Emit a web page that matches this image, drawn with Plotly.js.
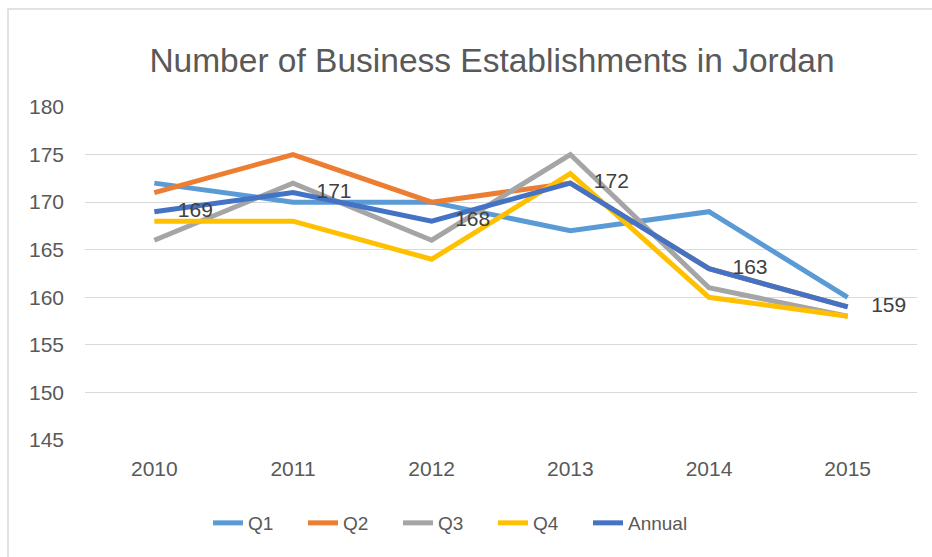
<!DOCTYPE html>
<html>
<head>
<meta charset="utf-8">
<script src="https://cdn.plot.ly/plotly-3.0.1.min.js"></script>
<style>
html,body{margin:0;padding:0;background:#fff;}
#chart{width:932px;height:557px;}
</style>
</head>
<body>
<div id="chart"></div>
<script>
const years = ['2010','2011','2012','2013','2014','2015'];
const q1 = [172, 170, 170, 167, 169, 160];
const q2 = [171, 175, 170, 172, 163, 159];
const q3 = [166, 172, 166, 175, 161, 158];
const q4 = [168, 168, 164, 173, 160, 158];
const annual = [169, 171, 168, 172, 163, 159];
const yTicks = [145, 150, 155, 160, 165, 170, 175, 180];

const seriesNames = ['Q1', 'Q2', 'Q3', 'Q4', 'Annual'];
const seriesData = [q1, q2, q3, q4, annual];
const seriesColors = ['#5B9BD5', '#ED7D31', '#A5A5A5', '#FFC000', '#4472C4'];
const seriesLegend = ['legend', 'legend', 'legend', 'legend', 'legend2'];

const FONT = 'Liberation Sans, Arial, sans-serif';

const traces = seriesNames.map((n, i) => ({
  type: 'scatter',
  mode: 'lines',
  name: n,
  x: years,
  y: seriesData[i],
  line: {color: seriesColors[i], width: 5},
  legend: seriesLegend[i],
  hoverinfo: 'x+y+name'
}));

traces.push({
  type: 'scatter',
  mode: 'markers+text',
  x: years,
  y: annual,
  text: annual.map(String),
  textposition: 'middle right',
  textfont: {family: FONT, size: 21, color: '#404040'},
  marker: {size: 36, opacity: 0},
  showlegend: false,
  hoverinfo: 'skip'
});

const legendFont = {family: FONT, size: 19, color: '#595959'};

const layout = {
  width: 932,
  height: 557,
  margin: {l: 85, r: 15, t: 107, b: 117},
  paper_bgcolor: '#ffffff',
  plot_bgcolor: '#ffffff',
  font: {family: FONT, color: '#595959'},
  title: {
    text: 'Number of Business Establishments in Jordan',
    font: {family: FONT, size: 33.5, color: '#595959'},
    x: 492 / 932, xanchor: 'center', xref: 'container',
    y: 1 - 60 / 557, yanchor: 'middle', yref: 'container'
  },
  xaxis: {
    type: 'category',
    range: [-0.5, 5.5],
    showgrid: false,
    zeroline: false,
    showline: false,
    ticks: '',
    tickfont: {family: FONT, size: 21, color: '#595959'},
    ticklabelstandoff: 14
  },
  yaxis: {
    range: [145, 180],
    tickvals: yTicks,
    ticktext: yTicks.map(String),
    showgrid: true,
    gridcolor: '#d9d9d9',
    gridwidth: 1,
    zeroline: false,
    showline: false,
    ticks: '',
    tickfont: {family: FONT, size: 21, color: '#595959'},
    ticklabelstandoff: 20
  },
  legend: {
    orientation: 'h',
    x: (208 - 85) / 832,
    xanchor: 'left',
    y: (440 - 523) / 333,
    yanchor: 'middle',
    font: legendFont,
    entrywidth: 50,
    entrywidthmode: 'pixels',
    bgcolor: 'rgba(0,0,0,0)'
  },
  legend2: {
    orientation: 'h',
    x: (588 - 85) / 832,
    xanchor: 'left',
    y: (440 - 523) / 333,
    yanchor: 'middle',
    font: legendFont,
    bgcolor: 'rgba(0,0,0,0)'
  },
  shapes: [{
    type: 'rect',
    xref: 'paper', yref: 'paper',
    x0: (8 - 85) / 832, x1: (960 - 85) / 832,
    y0: (440 - 600) / 333, y1: (440 - 9) / 333,
    line: {color: '#d9d9d9', width: 1.5},
    fillcolor: 'rgba(0,0,0,0)',
    layer: 'below'
  }],
  showlegend: true
};

Plotly.newPlot('chart', traces, layout, {displayModeBar: false, staticPlot: true});
</script>
</body>
</html>
